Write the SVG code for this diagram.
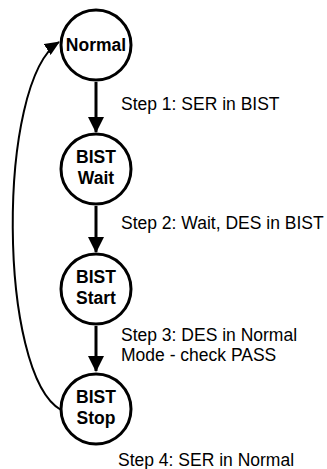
<svg xmlns="http://www.w3.org/2000/svg" width="327" height="469" viewBox="0 0 327 469">
<style>
.node{fill:#fff;stroke:#000;stroke-width:3}
.nt{font-family:"Liberation Sans",Arial,sans-serif;font-weight:bold;font-size:17.5px;text-anchor:middle;fill:#000}
.lbl{font-family:"Liberation Sans",Arial,sans-serif;font-size:17.5px;fill:#000}
.edge{fill:none;stroke:#000;stroke-width:3}
.back{fill:none;stroke:#000;stroke-width:2}
</style>
<defs>
<marker id="ah" markerUnits="userSpaceOnUse" markerWidth="16" markerHeight="16" refX="15" refY="8" orient="auto" viewBox="0 0 16 16">
<path d="M0,0 L16,8 L0,16 Z" fill="#000"/>
</marker>
<marker id="ah2" markerUnits="userSpaceOnUse" markerWidth="15" markerHeight="13" refX="14" refY="6.5" orient="auto" viewBox="0 0 15 13">
<path d="M0,0 L15,6.5 L0,13 Z" fill="#000"/>
</marker>
</defs>
<g id="connectors">
<line class="edge" x1="96" y1="82" x2="96" y2="132" marker-end="url(#ah)"/>
<line class="edge" x1="96" y1="206" x2="96" y2="252" marker-end="url(#ah)"/>
<line class="edge" x1="96" y1="326" x2="96" y2="371" marker-end="url(#ah)"/>
<path class="back" d="M61,410 C-2,375 -4,82 59,42" marker-end="url(#ah2)"/>
</g>
<g id="normal">
<circle class="node" cx="96" cy="45" r="35"/>
<text class="nt" x="96" y="51">Normal</text>
</g>
<g id="bist-wait">
<circle class="node" cx="96" cy="169" r="35"/>
<text class="nt" x="96" y="163">BIST</text>
<text class="nt" x="96" y="184">Wait</text>
</g>
<g id="bist-start">
<circle class="node" cx="96" cy="289" r="35"/>
<text class="nt" x="96" y="283">BIST</text>
<text class="nt" x="96" y="304">Start</text>
</g>
<g id="bist-stop">
<circle class="node" cx="96" cy="409" r="35"/>
<text class="nt" x="96" y="403">BIST</text>
<text class="nt" x="96" y="424">Stop</text>
</g>
<g id="labels">
<text class="lbl" x="121" y="110">Step 1: SER in BIST</text>
<text class="lbl" x="121" y="229">Step 2: Wait, DES in BIST</text>
<text class="lbl" x="121" y="341">Step 3: DES in Normal</text>
<text class="lbl" x="121" y="361">Mode - check PASS</text>
<text class="lbl" x="118" y="466">Step 4: SER in Normal</text>
</g>
</svg>
